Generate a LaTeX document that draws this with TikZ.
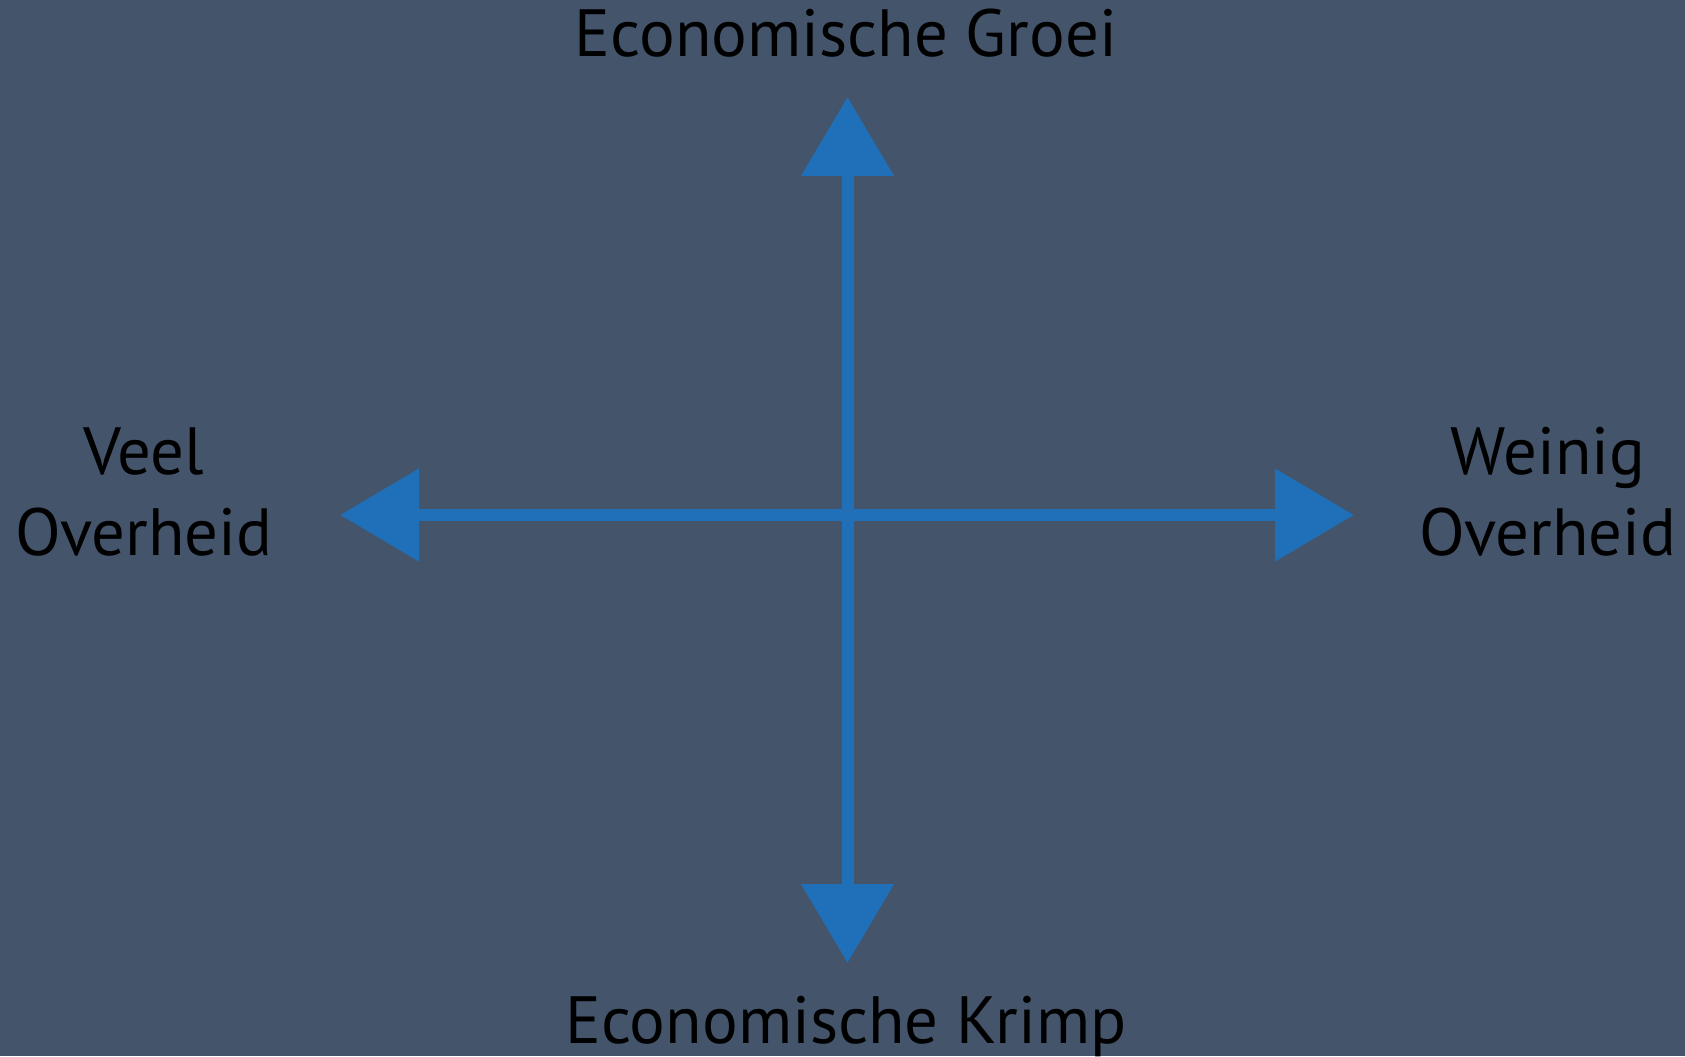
\documentclass[tikz,border=0pt]{standalone}
\usepackage{fontspec}
\setmainfont{PT Sans}
\usetikzlibrary{arrows.meta}
\definecolor{bgSlate}{RGB}{67,84,107}
\definecolor{axBlue}{RGB}{31,112,184}

\begin{document}
\begin{tikzpicture}[
    x=0.1mm, y=-0.1mm,
    axis/.style={draw=axBlue, line width=1.2mm,
      {Triangle[length=7.9mm, width=9mm]}-{Triangle[length=7.9mm, width=9mm]}},
    lbl/.style={font=\fontsize{19}{22.8}\selectfont, text=black, inner sep=0pt},
    side/.style={lbl, align=center, font=\fontsize{19}{22.8}\selectfont},
  ]

  % background fixes the page size
  \fill[bgSlate] (0,0) rectangle (1685,1056);
  \useasboundingbox (0,0) rectangle (1685,1056);

  %% axis end points
  \coordinate (O) at (847.5,515);
  \coordinate (N) at (847.5,97);
  \coordinate (S) at (847.5,963);
  \coordinate (W) at (340,515);
  \coordinate (E) at (1354,515);

  \draw[axis] (S) -- (N);
  \draw[axis] (W) -- (E);

  %% labels
  \node[lbl, anchor=base] (groei) at (846,57) {Economische Groei};
  \node[lbl, anchor=base] (krimp) at (846,1043) {Economische Krimp};
  \node[side, anchor=base] (veel) at (144,555) {Veel\\Overheid};
  \node[side, anchor=base] (weinig) at (1548,555) {Weinig\\Overheid};

\end{tikzpicture}
\end{document}
